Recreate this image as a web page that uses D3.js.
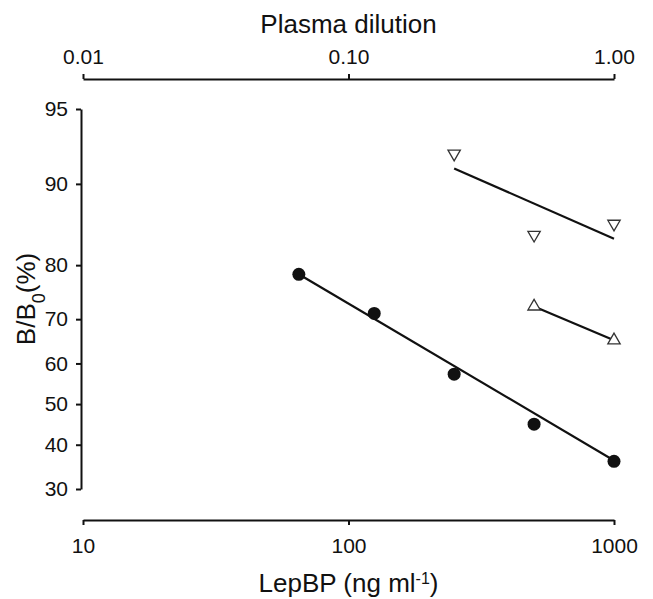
<!DOCTYPE html>
<html>
<head>
<meta charset="utf-8">
<script src="https://cdn.jsdelivr.net/npm/d3@7"></script>
<style>
  body { margin: 0; background: #fff; }
  text { font-family: "Liberation Sans", Arial, sans-serif; fill: #111; }
  .axis path, .axis line { stroke: #111; stroke-width: 2; }
  .axis text { font-size: 21px; }
  .title { font-size: 26px; }
</style>
</head>
<body>
<div id="chart"></div>
<script>
// tick values
var bottomTicks = [10, 100, 1000];
var topTicks = [0.01, 0.1, 1];
var topTickLabels = ["0.01", "0.10", "1.00"];
var yTicks = [30, 40, 50, 60, 70, 80, 90, 95];

// standard curve (filled circles), LepBP ng/ml vs B/B0 %
var standardX = [65, 125, 250, 500, 1000];
var standardY = [78.5, 71.2, 57.4, 45.0, 36.1];
var standardFitX = [65, 1000];
var standardFitY = [78.5, 36.3];

// plasma sample A (down triangles), plasma dilution vs B/B0 %
var plasmaAX = [0.25, 0.5, 1];
var plasmaAY = [92.4, 84.4, 85.8];
var plasmaAFitX = [0.25, 1];
var plasmaAFitY = [91.3, 83.9];

// plasma sample B (up triangles)
var plasmaBX = [0.5, 1];
var plasmaBY = [72.6, 65.4];

var svgWidth = 653;
var svgHeight = 599;

var xLeft = 83, xRight = 614;
var yTop = 109, yBottom = 489;
var topAxisY = 79, bottomAxisY = 520, leftAxisX = 81;

var svg = d3.select("#chart")
  .append("svg")
  .attr("width", svgWidth)
  .attr("height", svgHeight);

// logit transform for the percent axis
function logit(p) {
  var f = p / 100;
  return Math.log(f / (1 - f));
}

var xBottom = d3.scaleLog().domain([10, 1000]).range([xLeft, xRight]);
var xTop = d3.scaleLog().domain([0.01, 1]).range([xLeft, xRight]);
var yLin = d3.scaleLinear().domain([logit(30), logit(95)]).range([yBottom, yTop]);
var y = function(v) { return yLin(logit(v)); };

// axes
svg.append("g")
  .attr("class", "axis")
  .attr("transform", `translate(0, ${topAxisY})`)
  .call(d3.axisTop(xTop)
    .tickValues(topTicks)
    .tickFormat((d, i) => topTickLabels[i])
    .tickSize(5)
    .tickSizeOuter(0)
    .tickPadding(10));

svg.append("g")
  .attr("class", "axis")
  .attr("transform", `translate(0, ${bottomAxisY})`)
  .call(d3.axisBottom(xBottom)
    .tickValues(bottomTicks)
    .tickFormat(d3.format("d"))
    .tickSize(5)
    .tickSizeOuter(0)
    .tickPadding(13));

svg.append("g")
  .attr("class", "axis")
  .attr("transform", `translate(${leftAxisX}, 0)`)
  .call(d3.axisLeft(yLin)
    .tickValues(yTicks.map(logit))
    .tickFormat((d, i) => yTicks[i])
    .tickSize(5)
    .tickSizeOuter(0)
    .tickPadding(8));

svg.selectAll(".axis .domain").attr("fill", "none");

// titles
svg.append("text")
  .attr("class", "title")
  .attr("x", (xLeft + xRight) / 2)
  .attr("y", 33)
  .attr("text-anchor", "middle")
  .text("Plasma dilution");

var xTitle = svg.append("text")
  .attr("class", "title")
  .attr("x", (xLeft + xRight) / 2)
  .attr("y", 592)
  .attr("text-anchor", "middle");
xTitle.append("tspan").text("LepBP (ng ml");
xTitle.append("tspan").attr("baseline-shift", "super").attr("font-size", "16px").text("-1");
xTitle.append("tspan").text(")");

var yTitle = svg.append("text")
  .attr("class", "title")
  .attr("transform", `translate(35, ${(yTop + yBottom) / 2}) rotate(-90)`)
  .attr("text-anchor", "middle");
yTitle.append("tspan").text("B/B");
yTitle.append("tspan").attr("baseline-shift", "sub").attr("font-size", "18px").text("0");
yTitle.append("tspan").text("(%)");

// fit lines
var line = d3.line();

svg.append("path")
  .attr("d", line(standardFitX.map((d, i) => [xBottom(d), y(standardFitY[i])])))
  .attr("fill", "none")
  .attr("stroke", "#111")
  .attr("stroke-width", 2.2);

svg.append("path")
  .attr("d", line(plasmaAFitX.map((d, i) => [xTop(d), y(plasmaAFitY[i])])))
  .attr("fill", "none")
  .attr("stroke", "#111")
  .attr("stroke-width", 2.2);

svg.append("path")
  .attr("d", line(plasmaBX.map((d, i) => [xTop(d), y(plasmaBY[i])])))
  .attr("fill", "none")
  .attr("stroke", "#111")
  .attr("stroke-width", 2.2);

// markers
svg.selectAll(".std")
  .data(standardX)
  .enter()
  .append("circle")
  .attr("cx", d => xBottom(d))
  .attr("cy", (d, i) => y(standardY[i]))
  .attr("r", 6.5)
  .attr("fill", "#111");

var tri = d3.symbol().type(d3.symbolTriangle).size(66);

svg.selectAll(".plA")
  .data(plasmaAX)
  .enter()
  .append("path")
  .attr("d", tri)
  .attr("transform", (d, i) => `translate(${xTop(d)}, ${y(plasmaAY[i])}) rotate(180)`)
  .attr("fill", "#fff")
  .attr("stroke", "#333")
  .attr("stroke-width", 1.3);

svg.selectAll(".plB")
  .data(plasmaBX)
  .enter()
  .append("path")
  .attr("d", tri)
  .attr("transform", (d, i) => `translate(${xTop(d)}, ${y(plasmaBY[i])})`)
  .attr("fill", "#fff")
  .attr("stroke", "#333")
  .attr("stroke-width", 1.3);
</script>
</body>
</html>
